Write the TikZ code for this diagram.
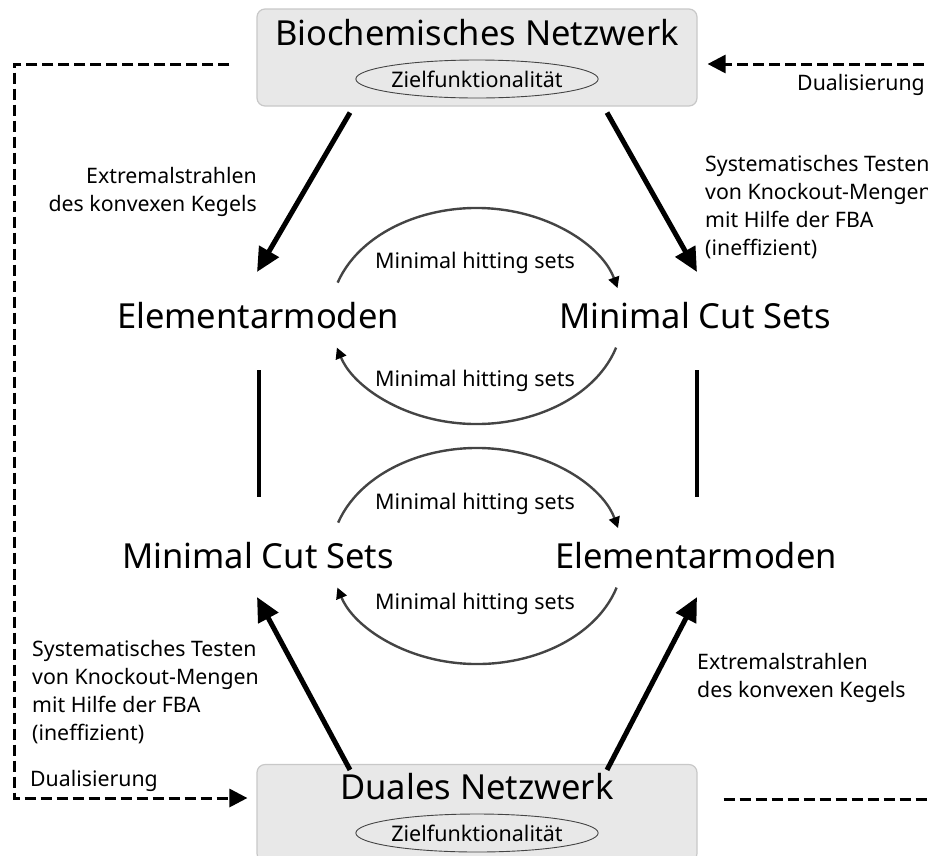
\documentclass[tikz,border=0pt]{standalone}
\usepackage{fontspec}
\setmainfont{Noto Sans}
\usetikzlibrary{arrows.meta,shapes.geometric,calc}
\definecolor{boxfill}{HTML}{E8E8E8}
\definecolor{boxline}{HTML}{C8C8C8}
\definecolor{arcgray}{HTML}{444444}
\tikzset{
  netbox/.style={draw=boxline, fill=boxfill, line width=1.2pt, rounded corners=8pt,
    minimum width=440pt, minimum height=97pt, inner sep=0pt},
  bigtext/.style={font=\fontsize{34.5}{40}\selectfont, inner sep=0pt},
  zfield/.style={ellipse, draw=arcgray, line width=0.9pt, minimum width=220pt,
    minimum height=38pt, inner sep=0pt, font=\fontsize{21.5}{24}\selectfont},
  hitlabel/.style={font=\fontsize{21.5}{24}\selectfont, inner sep=0pt},
  sidelabel/.style={font=\fontsize{21.3}{28}\selectfont, inner sep=0pt},
  bigarrow/.style={line width=5pt, -{Triangle[length=24pt,width=22pt]}},
  plainbar/.style={line width=4pt},
  hitarc/.style={draw=arcgray, line width=2.4pt, -{Triangle[length=11pt,width=11pt,color=black]}},
  dualline/.style={line width=3pt, dash pattern=on 11pt off 5pt},
  dualarrow/.style={dualline, -{Triangle[length=18pt,width=18pt]}},
}
\begin{document}
\begin{tikzpicture}[x=1pt,y=-1pt]
\useasboundingbox (0,0) rectangle (928,855);

% network boxes with their target functionality
\node[netbox] (bio) at (477,57.5) {};
\node[bigtext] (biot) at (477,33) {Biochemisches Netzwerk};
\node[zfield] (zf1) at (477,79) {Zielfunktionalität};

\node[netbox] (dual) at (477,813) {};
\node[bigtext] (dualt) at (477,787) {Duales Netzwerk};
\node[zfield] (zf2) at (477,833) {Zielfunktionalität};

% the four sets
\node[bigtext] (em1) at (258,316) {Elementarmoden};
\node[bigtext] (mcs1) at (695,316) {Minimal Cut Sets};
\node[bigtext] (mcs2) at (258,556) {Minimal Cut Sets};
\node[bigtext] (em2) at (696,556) {Elementarmoden};

% computation arrows
\draw[bigarrow] ([xshift=-127pt,yshift=-6pt]bio.south) -- ([xshift=-1pt,yshift=44pt]em1.center);
\draw[bigarrow] ([xshift=130pt,yshift=-6pt]bio.south) -- ([xshift=2pt,yshift=44pt]mcs1.center);
\draw[bigarrow] ([xshift=-127pt]dual.north) ++(0,6) -- ([xshift=-1pt,yshift=-41pt]mcs2.center);
\draw[bigarrow] ([xshift=130pt]dual.north) ++(0,6) -- ([xshift=1pt,yshift=-41pt]em2.center);

% vertical bars between the levels
\draw[plainbar] ([xshift=1pt,yshift=-54pt]em1.center) -- ([xshift=1pt,yshift=59pt]mcs2.center);
\draw[plainbar] ([xshift=2pt,yshift=-54pt]mcs1.center) -- ([xshift=1pt,yshift=59pt]em2.center);

% minimal hitting set arcs: elliptic arcs around the midpoint of each pair
\coordinate (mid1) at ($(em1.center)!0.5!(mcs1.center)$);
\coordinate (mid2) at ($(mcs2.center)!0.5!(em2.center)$);
\draw[hitarc] ($(mid1)+(-162:146 and 108)$) arc[start angle=-162, end angle=-15, x radius=146, y radius=108];
\draw[hitarc] ($(mid1)+(17:146 and 108)$) arc[start angle=17, end angle=163, x radius=146, y radius=108];
\node[hitlabel] (h1) at (475,263) {Minimal hitting sets};
\node[hitlabel] (h2) at (475,381) {Minimal hitting sets};

\draw[hitarc] ($(mid2)+(-162:146 and 108)$) arc[start angle=-162, end angle=-15, x radius=146, y radius=108];
\draw[hitarc] ($(mid2)+(17:146 and 108)$) arc[start angle=17, end angle=163, x radius=146, y radius=108];
\node[hitlabel] (h3) at (475,504) {Minimal hitting sets};
\node[hitlabel] (h4) at (475,604) {Minimal hitting sets};

% method labels
\node[sidelabel, align=right, anchor=north east] (l1) at (257,167.5) {Extremalstrahlen\\des konvexen Kegels};
\node[sidelabel, align=left, anchor=north west] (l2) at (705,155) {Systematisches Testen\\von Knockout-Mengen\\mit Hilfe der FBA\\(ineffizient)};
\node[sidelabel, align=left, anchor=north west] (l3) at (32,640.5) {Systematisches Testen\\von Knockout-Mengen\\mit Hilfe der FBA\\(ineffizient)};
\node[sidelabel, align=left, anchor=north west] (l4) at (697,653) {Extremalstrahlen\\des konvexen Kegels};

% dualisation loop
\coordinate (rtop) at (940,64);
\coordinate (rbot) at (940,799);
\coordinate (lcorner1) at (14,64);
\coordinate (lcorner2) at (14,798);
\draw[dualarrow] ([xshift=-27pt,yshift=-6.5pt]bio.west) -- (lcorner1) -- (lcorner2) -- ([xshift=-9pt,yshift=15pt]dual.west);
\draw[dualarrow] (rtop) -- ([xshift=10pt,yshift=-6.5pt]bio.east);
\draw[dualline] ([xshift=26pt,yshift=14pt]dual.east) -- (rbot);
\node[sidelabel, anchor=north east] (d1) at (925,74) {Dualisierung};
\node[sidelabel, anchor=north west] (d2) at (30,770) {Dualisierung};
\end{tikzpicture}
\end{document}
